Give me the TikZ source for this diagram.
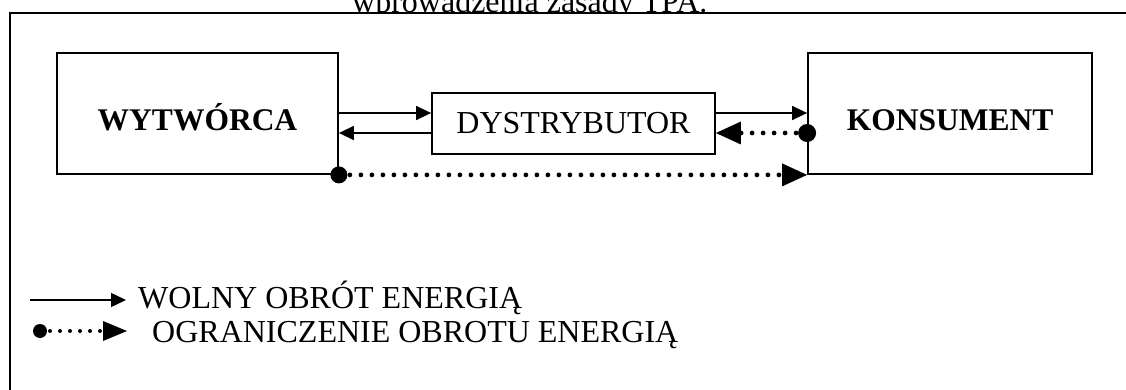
\documentclass[tikz,border=0pt]{standalone}
\usepackage{fontspec}
\setmainfont{Liberation Serif}
\usetikzlibrary{arrows.meta}
\begin{document}
\begin{tikzpicture}[x=1pt,y=-1pt,
  box/.style={draw, line width=1.8pt, inner sep=0pt},
  bigtext/.style={font=\fontsize{32}{38}\selectfont},
  boldtext/.style={font=\bfseries\fontsize{31.5}{38}\selectfont},
  flow/.style={line width=1.5pt, -{Triangle[length=15pt,width=14pt]}},
  limited/.style={line width=4.8pt, line cap=round, dash pattern=on 0pt off 11pt,
    -{Triangle[length=25pt,width=23pt,line width=0pt]}},
  limitedsmall/.style={line width=4pt, line cap=round, dash pattern=on 0pt off 10pt,
    -{Triangle[length=24pt,width=20pt,line width=0pt]}},
  legendtext/.style={inner sep=0pt, anchor=base west, font=\fontsize{32}{38}\selectfont},
  frame/.style={line width=1.3pt}
  ]
\useasboundingbox (0,0) rectangle (1126,390);

% caption cut off at the top
\begin{scope}
  \clip (0,0) rectangle (1126,12);
  \node[inner sep=0pt, anchor=base west, bigtext] (cap) at (352,12.5) {wprowadzenia zasady TPA.};
\end{scope}

% frame
\draw[frame] (1126,13) -- (10,13) -- (10,390);

% boxes
\node[box, boldtext, minimum width=281pt, minimum height=121pt, text height=35pt, text depth=0pt] (W) at (197.5,113.5) {WYTWÓRCA};
\node[box, bigtext, minimum width=283pt, minimum height=61pt, text height=21pt, text depth=0pt] (D) at (573.5,123.5) {DYSTRYBUTOR};
\node[box, boldtext, minimum width=284pt, minimum height=121pt, text height=35pt, text depth=0pt] (K) at (950,113.5) {KONSUMENT};

% connectors
\draw[flow] (W.east |- 0,113) -- (D.west |- 0,113);
\draw[flow] (D.west |- 0,133) -- (W.east |- 0,133);
\draw[flow] (D.east |- 0,113) -- (K.west |- 0,113);
\draw[limited] (K.west |- 0,133) -- (D.east |- 0,133);
\fill (K.west |- 0,133) circle[radius=9pt];
\draw[limited] (W.south east) -- (K.south west);
\fill (W.south east) circle[radius=8.5pt];

% legend
\coordinate (l1s) at (30,300);
\coordinate (l1e) at (126,300);
\draw[flow] (l1s) -- (l1e);
\node[legendtext] (t1) at (138,308) {WOLNY OBRÓT ENERGIĄ};
\coordinate (l2s) at (40,331);
\coordinate (l2e) at (127,331);
\draw[limitedsmall] (l2s) -- (l2e);
\fill (l2s) circle[radius=7pt];
\node[legendtext] (t2) at (152,342) {OGRANICZENIE OBROTU ENERGIĄ};
\end{tikzpicture}
\end{document}
